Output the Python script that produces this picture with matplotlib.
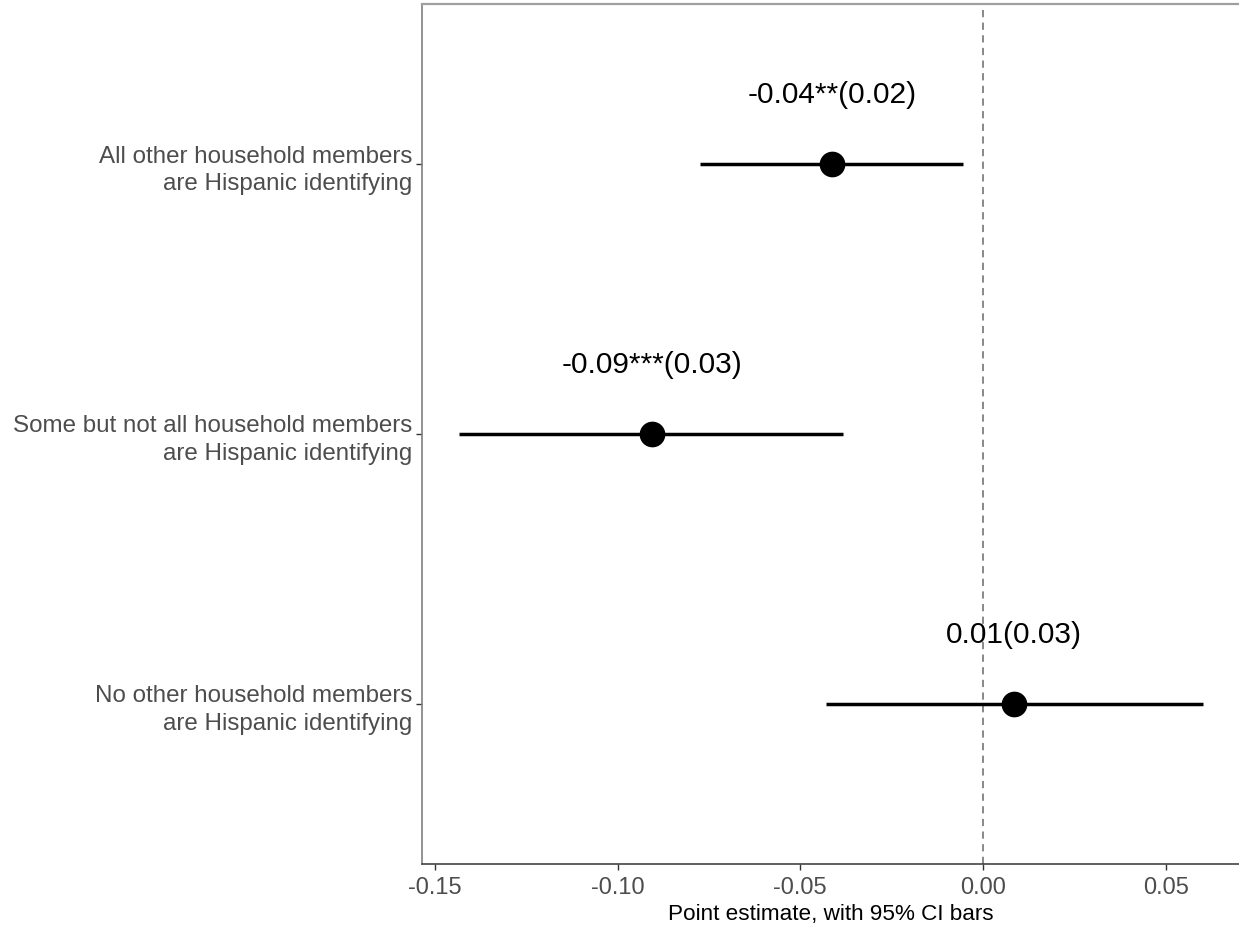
import numpy as np
import matplotlib.pyplot as plt

# --- Data ---
categories = ["No other household members\nare Hispanic identifying",
              "Some but not all household members\nare Hispanic identifying",
              "All other household members\nare Hispanic identifying"]
estimates = [0.0086, -0.0905, -0.0413]
ci_low = [-0.0430, -0.1433, -0.0774]
ci_high = [0.0603, -0.0383, -0.0054]
labels = ["0.01(0.03)", "-0.09***(0.03)", "-0.04**(0.02)"]
xticks = [-0.15, -0.10, -0.05, 0.00, 0.05]

plt.rcParams['font.family'] = ['Liberation Sans', 'DejaVu Sans']

fig = plt.figure(figsize=(12.39, 9.28), dpi=100)
ax = fig.add_axes([422 / 1239, 1 - 865 / 928, 1 - 422 / 1239, 860 / 928])

ypos = np.arange(1, len(categories) + 1)

# zero reference line
ax.axvline(0, color="#7f7f7f", linestyle=(0, (4, 3)), linewidth=1.3, zorder=1)

# CI bars and points
ax.hlines(ypos, ci_low, ci_high, color="black", linewidth=2.5, zorder=2)
ax.plot(estimates, ypos, "o", color="black", markersize=17.5, zorder=3)

# estimate labels above each point
for x, y, s in zip(estimates, ypos, labels):
    ax.text(x, y + 0.26, s, ha="center", va="center", fontsize=21.5, color="black")

ax.set_xlim(-0.15356, 0.0701)
ax.set_ylim(0.407, 3.593)

ax.set_xticks(xticks)
ax.set_xticklabels([f"{v:.2f}" for v in xticks])
ax.set_yticks(ypos)
ax.set_yticklabels(categories, ha="right", multialignment="right", linespacing=1.3)

ax.tick_params(axis="x", colors="#333333", labelcolor="#4d4d4d", labelsize=17,
               length=4, width=1, direction="out", pad=5)
ax.tick_params(axis="y", colors="#333333", labelcolor="#4d4d4d", labelsize=17.4,
               length=4, width=1, direction="out", pad=3)

ax.set_xlabel("Point estimate, with 95% CI bars", fontsize=16.2, color="black", labelpad=3)

ax.spines["right"].set_visible(False)
ax.spines["top"].set_color("#a0a0a0")
ax.spines["top"].set_linewidth(1.6)
ax.spines["left"].set_color("#808080")
ax.spines["left"].set_linewidth(1.2)
ax.spines["bottom"].set_color("#444444")
ax.spines["bottom"].set_linewidth(1.2)

plt.savefig("out.png", dpi=100)
